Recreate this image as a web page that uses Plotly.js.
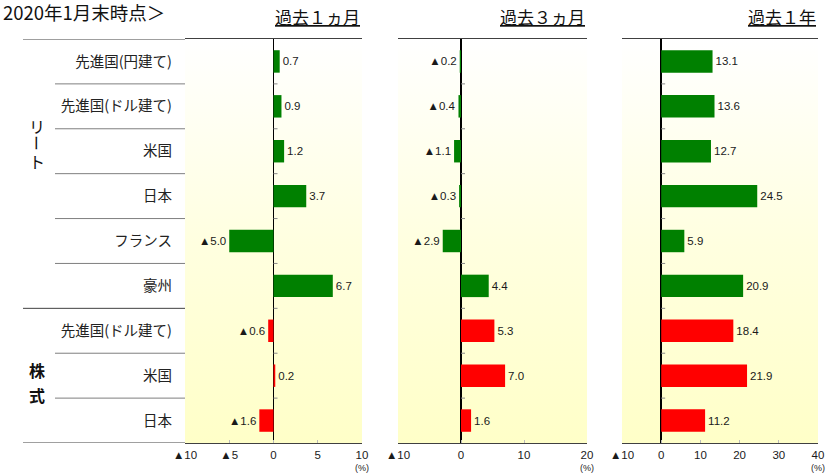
<!DOCTYPE html>
<html>
<head>
<meta charset="utf-8">
<script src="https://cdn.plot.ly/plotly-3.0.1.min.js"></script>
<style>html,body{margin:0;padding:0;background:#fff;}#chart{width:834px;height:473px;}</style>
</head>
<body>
<div id="chart"></div>
<script>
// ---- data ----
const categories = ['先進国(円建て)', '先進国(ドル建て)', '米国', '日本', 'フランス', '豪州', '先進国(ドル建て)', '米国', '日本'];
const groups = ['リート', 'リート', 'リート', 'リート', 'リート', 'リート', '株式', '株式', '株式'];
const oneMonth = [0.7, 0.9, 1.2, 3.7, -5.0, 6.7, -0.6, 0.2, -1.6];
const threeMonth = [-0.2, -0.4, -1.1, -0.3, -2.9, 4.4, 5.3, 7.0, 1.6];
const oneYear = [13.1, 13.6, 12.7, 24.5, 5.9, 20.9, 18.4, 21.9, 11.2];
const panelTitles = ['過去１ヵ月', '過去３ヵ月', '過去１年'];
const tick1Vals = [-10, -5, 0, 5, 10], tick1Text = ['▲10', '▲5', '0', '5', '10'];
const tick2Vals = [-10, 0, 10, 20], tick2Text = ['▲10', '0', '10', '20'];
const tick3Vals = [-10, 0, 10, 20, 30, 40], tick3Text = ['▲10', '0', '10', '20', '30', '40'];
const mainTitle = '2020年1月末時点＞';

// ---- layout helpers ----
const W = 834, H = 473, T = 39, B = 30;
const rowH = (H - T - B) / categories.length;
const px = x => x / W;
const py = y => (H - B - y) / (H - T - B);
const rowAt = y => (y - T) / rowH - 0.5;          // pixel y -> category-axis value
const idx = categories.map((_, i) => i);
const colors = groups.map(g => g === 'リート' ? '#008000' : '#ff0000');
const fmt = v => v < 0 ? '▲' + Math.abs(v).toFixed(1) : v.toFixed(1);

const domains = [[185, 362], [398, 587], [622, 818]];
const series = [oneMonth, threeMonth, oneYear];
const ranges = [[-10, 10], [-10, 20], [-10, 40]];
const ticks = [[tick1Vals, tick1Text], [tick2Vals, tick2Text], [tick3Vals, tick3Text]];
const labelFont = {family: 'Liberation Sans, Arial, sans-serif', size: 11.5, color: '#1a1a1a'};

const traces = series.map((s, k) => ({
  type: 'bar', orientation: 'h',
  x: s, y: idx,
  xaxis: k === 0 ? 'x' : 'x' + (k + 1),
  yaxis: k === 0 ? 'y' : 'y' + (k + 1),
  width: 0.5,
  marker: {color: colors, line: {width: 0}},
  text: s.map(fmt), textposition: 'outside', constraintext: 'none', cliponaxis: false,
  outsidetextfont: labelFont,
  hoverinfo: 'skip', showlegend: false
}));

const layout = {
  width: W, height: H,
  margin: {l: 0, r: 0, t: T, b: B},
  paper_bgcolor: '#ffffff', plot_bgcolor: 'rgba(0,0,0,0)',
  font: {family: 'Noto Sans CJK JP, sans-serif', color: '#222'},
  shapes: [], annotations: [], images: []
};

const grad = "<svg xmlns='http://www.w3.org/2000/svg' width='10' height='100' viewBox='0 0 10 100' preserveAspectRatio='none'><defs><linearGradient id='g' x1='0' y1='0' x2='0' y2='1'><stop offset='0' stop-color='#ffffff'/><stop offset='0.5' stop-color='#ffffe0'/><stop offset='1' stop-color='#ffffc8'/></linearGradient></defs><rect width='10' height='100' fill='url(#g)'/></svg>";
const gradUrl = 'data:image/svg+xml;charset=utf-8,' + encodeURIComponent(grad);

domains.forEach((d, k) => {
  const sfx = k === 0 ? '' : String(k + 1);
  layout['xaxis' + sfx] = {
    domain: [px(d[0]), px(d[1])], range: ranges[k], anchor: 'y' + sfx,
    tickvals: ticks[k][0], ticktext: ticks[k][1],
    ticks: 'inside', ticklen: 3, tickcolor: '#bbbbbb', ticklabelstandoff: 1,
    tickfont: {family: 'Liberation Sans, Arial, sans-serif', size: 11.5, color: '#1a1a1a'},
    showgrid: false, zeroline: true, zerolinecolor: '#000', zerolinewidth: 1.5,
    showline: true, mirror: true, linecolor: '#404040', linewidth: 1, fixedrange: true
  };
  layout['yaxis' + sfx] = {
    domain: [0, 1], range: [8.5, -0.5], anchor: 'x' + sfx,
    tickvals: idx, ticktext: categories, showticklabels: k === 0,
    ticks: '', ticklabelstandoff: 12,
    tickfont: {family: 'Noto Sans CJK JP, sans-serif', size: 14.5, color: '#222'},
    showgrid: false, zeroline: false, fixedrange: true
  };
  layout.images.push({
    source: gradUrl, xref: 'paper', yref: 'paper',
    x: px(d[0]), y: 1, sizex: px(d[1]) - px(d[0]), sizey: 1,
    sizing: 'stretch', layer: 'below', xanchor: 'left', yanchor: 'top'
  });
  // small marks on the zero line at row boundaries
  for (let b = 1; b < categories.length; b++) {
    layout.shapes.push({
      type: 'line', xref: 'x' + sfx, yref: 'y' + sfx, xsizemode: 'pixel', xanchor: 0,
      x0: 0, x1: 4, y0: b - 0.5, y1: b - 0.5,
      line: {color: '#888888', width: 1}
    });
  }
  // panel title
  layout.annotations.push({
    text: '<u>' + panelTitles[k] + '</u>', xref: 'paper', yref: 'paper',
    x: px(d[1]), y: py(17), xanchor: 'right', yanchor: 'middle', showarrow: false,
    font: {family: 'Noto Sans CJK JP, sans-serif', size: 17, color: '#111'}
  });
  // (%) unit
  layout.annotations.push({
    text: '(%)', xref: 'paper', yref: 'paper',
    x: px(d[1]), y: py(468), xanchor: 'center', yanchor: 'middle', showarrow: false,
    font: {family: 'Liberation Sans, Arial, sans-serif', size: 9, color: '#222'}
  });
});

// main title
layout.annotations.push({
  text: mainTitle, xref: 'paper', yref: 'paper', x: px(1), y: py(12),
  xanchor: 'left', yanchor: 'middle', showarrow: false,
  font: {family: 'Noto Sans CJK JP, sans-serif', size: 18.5, color: '#111'}
});

// left table lines
for (let b = 0; b <= categories.length; b++) {
  const yv = b - 0.5;
  const outer = b === 0 || b === categories.length || groups[b] !== groups[b - 1];
  layout.shapes.push({
    type: 'line', xref: 'paper', yref: 'y',
    x0: px(outer ? 23 : 55), x1: px(185), y0: yv, y1: yv,
    line: {color: outer ? '#404040' : '#7f7f7f', width: 1}
  });
}

// group labels (vertical text)
const grpLayout = {'リート': {cy: 143, step: 17.5, bold: false}, '株式': {cy: 382, step: 25, bold: true}};
Object.keys(grpLayout).forEach(g => {
  const gl = grpLayout[g];
  const chars = Array.from(g);
  chars.forEach((c, i) => {
    const yPix = gl.cy + (i - (chars.length - 1) / 2) * gl.step;
    layout.annotations.push({
      text: c, xref: 'paper', yref: 'y', x: px(37), y: rowAt(yPix),
      xanchor: 'center', yanchor: 'middle', showarrow: false,
      textangle: c === 'ー' ? 90 : 0,
      font: {family: 'Noto Sans CJK JP, sans-serif', size: 16, color: '#111', weight: gl.bold ? 'bold' : 'normal'}
    });
  });
});

Plotly.newPlot('chart', traces, layout, {displayModeBar: false, staticPlot: true});
</script>
</body>
</html>
